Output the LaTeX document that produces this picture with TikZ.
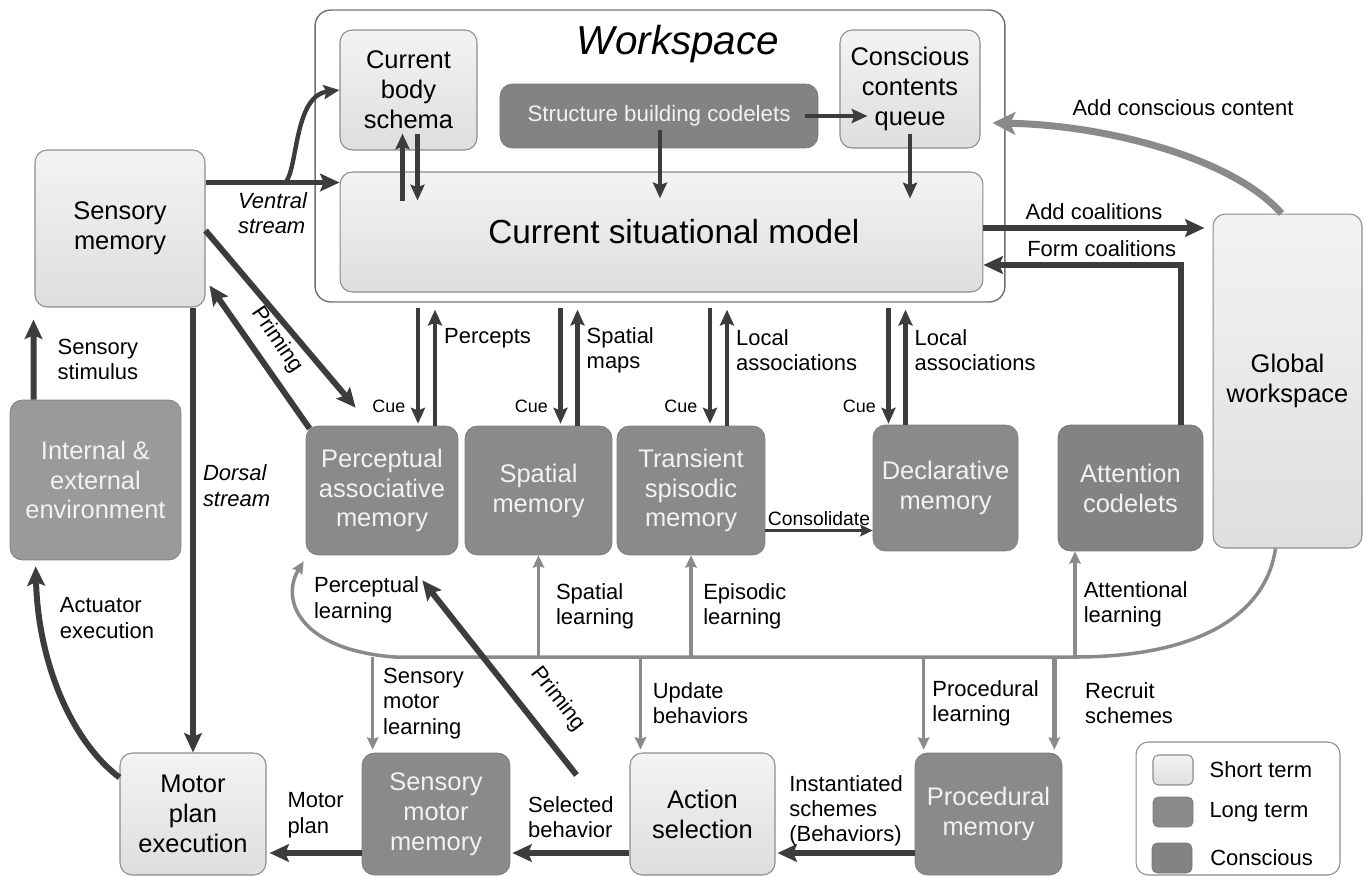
\documentclass[tikz,border=0pt]{standalone}
\usepackage{fontspec}
\setmainfont{Liberation Sans}
\usepackage{tikz}
\usetikzlibrary{positioning}
\usetikzlibrary{calc,arrows.meta}
\definecolor{shortterm}{HTML}{DEDEDE}
\definecolor{shorttop}{HTML}{F3F3F3}
\definecolor{longterm}{HTML}{8A8A8A}
\definecolor{conscious}{HTML}{838383}
\definecolor{envgray}{HTML}{9A9A9A}
\definecolor{darkarrow}{HTML}{3C3C3C}
\definecolor{lightarrow}{HTML}{8A8A8A}
\definecolor{rimgray}{HTML}{8C8C8C}

\tikzset{
  shortbox/.style={draw=rimgray, line width=0.6pt, rounded corners=7pt,
    top color=shorttop, bottom color=shortterm, align=center,
    font=\fontsize{14.5}{17}\selectfont, inner sep=2pt},
  longbox/.style={draw=longterm!90!black, line width=0.4pt, rounded corners=7pt,
    fill=longterm, align=center, text=white!95!black,
    font=\fontsize{14.5}{17}\selectfont, inner sep=2pt},
  consbox/.style={longbox, fill=conscious, draw=conscious!90!black},
  lbl/.style={font=\fontsize{12.5}{14.5}\selectfont, align=left, inner sep=1pt},
  cuelbl/.style={font=\fontsize{10.2}{12}\selectfont, inner sep=1pt},
  bigflow/.style={draw=darkarrow, line width=3.4pt, -{Stealth[length=11pt,width=10pt,inset=2pt]}},
  flow/.style={draw=darkarrow, line width=2.5pt, -{Stealth[length=9pt,width=8pt,inset=1.5pt]}},
  thinflow/.style={draw=darkarrow, line width=1.6pt, -{Stealth[length=7pt,width=6.5pt,inset=1pt]}},
  learn/.style={draw=lightarrow, line width=2pt, -{Stealth[length=7pt,width=6.5pt,inset=1pt]}},
}

\begin{document}
\begin{tikzpicture}[x=0.02cm, y=-0.02cm]
  \useasboundingbox (0,0) rectangle (1365,876);
  % Workspace
  \node[draw=rimgray!80!black, line width=0.8pt, rounded corners=9pt,
        minimum width=13.8cm, minimum height=5.84cm] (ws) at (660,156) {};
  \node[font=\fontsize{23}{27}\selectfont\itshape] (wstitle) at (678,44) {Workspace};
  \node[shortbox, minimum width=2.74cm, minimum height=2.4cm] (body) at (408.5,90) {Current\\body\\schema};
  \node[consbox, minimum width=6.36cm, minimum height=1.28cm,
        font=\fontsize{12.7}{15}\selectfont] (codelets) at (659,116) {Structure building codelets};
  \node[shortbox, minimum width=2.8cm, minimum height=2.36cm] (queue) at (910,89) {Conscious\\contents\\queue};
  \node[shortbox, minimum width=12.86cm, minimum height=2.4cm,
        font=\fontsize{19}{22}\selectfont] (csm) at (661.5,232) {\hspace*{14pt}Current situational model};
  % memories and modules
  \node[shortbox, minimum width=3.4cm, minimum height=3.14cm] (sensmem) at (120,228.5) {Sensory\\memory};
  \node[shortbox, minimum width=2.98cm, minimum height=6.68cm] (gw) at (1287.5,381) {Global\\workspace};
  \node[longbox, fill=envgray, minimum width=3.42cm, minimum height=3.2cm] (env) at (95.5,480) {Internal \&\\external\\environment};
  \node[longbox, minimum width=3.04cm, minimum height=2.58cm] (pam) at (382,490.5) {Perceptual\\associative\\memory};
  \node[longbox, minimum width=2.94cm, minimum height=2.58cm] (spatial) at (538.5,490.5) {Spatial\\memory};
  \node[longbox, minimum width=2.96cm, minimum height=2.58cm] (transient) at (691,490.5) {Transient\\spisodic\\memory};
  \node[longbox, minimum width=2.9cm, minimum height=2.52cm] (declarative) at (945.5,488) {Declarative\\memory};
  \node[consbox, minimum width=2.9cm, minimum height=2.52cm] (attn) at (1130.5,488) {Attention\\codelets};
  \node[shortbox, minimum width=2.92cm, minimum height=2.44cm] (motor) at (193,814) {Motor\\plan\\execution};
  \node[longbox, minimum width=2.96cm, minimum height=2.44cm] (smm) at (436,814) {Sensory\\motor\\memory};
  \node[shortbox, minimum width=2.9cm, minimum height=2.44cm] (action) at (702.5,814) {Action\\selection};
  \node[longbox, minimum width=2.94cm, minimum height=2.44cm] (procedural) at (988.5,814) {Procedural\\memory};
  % legend
  \node[draw=rimgray, line width=0.6pt, rounded corners=7pt,
        minimum width=4.08cm, minimum height=2.66cm] (legend) at (1238,808.5) {};
  \node[shortbox, rounded corners=3pt, minimum width=0.8cm, minimum height=0.6cm] (keyshort) at (1173,770) {};
  \node[longbox, rounded corners=3pt, minimum width=0.8cm, minimum height=0.6cm] (keylong) at (1173,812) {};
  \node[consbox, rounded corners=3pt, minimum width=0.8cm, minimum height=0.6cm] (keycons) at (1172,858) {};
  \node[lbl, right=8pt of keyshort] (shortlbl) {Short term};
  \node[lbl, right=8pt of keylong] (longlbl) {Long term};
  \node[lbl, right=9pt of keycons] (conslbl) {Conscious};

  % ventral stream
  \coordinate (ventral) at ($(sensmem.east)+(0,-46)$);
  \draw[bigflow] (ventral) -- (ventral -| csm.west)
    node[midway, below=3pt, lbl, font=\fontsize{12.5}{14.5}\selectfont\itshape] {Ventral\\stream};
  \draw[flow] ($(ventral)+(80,0)$) .. controls (298,168) and (294,96) .. (body.west);
  \draw[flow] ($(body.south)+(-6,50)$) -- ($(body.south)+(-6,-17)$);
  \draw[flow] ($(body.south)+(9,-17)$) -- ($(body.south)+(9,50)$);
  % codelets and queue
  \draw[flow] ($(codelets.south)+(1,-18)$) -- ($(codelets.south)+(1,50)$);
  \draw[flow] ($(codelets.east)+(-13,0)$) -- ($(queue.west)+(28,27)$);
  \draw[flow] ($(queue.south)+(0,-15)$) -- ($(queue.south)+(0,50)$);
  % coalitions
  \draw[bigflow] ($(csm.east)+(0,-4)$) -- ($(csm.east -| gw.west)+(-8,-4)$)
    node[midway, above=2pt, lbl] {Add coalitions};
  \draw[bigflow] ($(attn.north)+(50,0)$) |- ($(csm.east)+(0,33)$)
    node[pos=0.7, above=2pt, lbl] {Form coalitions};
  \draw[draw=lightarrow, line width=4pt, -{Stealth[length=13pt,width=13pt,inset=3pt]}]
    ($(gw.north)+(-6,0)$) .. controls (1235,160) and (1110,125) .. ($(queue.east)+(12,34)$);
  \node[lbl] (acclbl) at (1183,108) {Add conscious content};
  % sensory memory and perceptual associative memory
  \draw[bigflow] ($(sensmem.east)+(0,2)$) -- ($(pam.north west)+(50,-18)$);
  \draw[bigflow] ($(pam.north west)+(4,3)$) -- ($(sensmem.south east)+(4,-22)$);
  \node[lbl, rotate=-56] (primlbl) at (277,340) {Priming};
  % dorsal stream, stimulus, actuator
  \draw[bigflow] (motor.north |- sensmem.south) -- (motor.north)
    node[pos=0.4, right=3pt, lbl, font=\fontsize{12.5}{14.5}\selectfont\itshape] {Dorsal\\stream};
  \draw[bigflow] ($(env.north west)+(24,0)$) -- ($(sensmem.south west)+(-1,12)$)
    node[midway, right=11pt, lbl] {Sensory\\stimulus};
  \draw[bigflow] ($(motor.north west)+(0,25)$) .. controls (70,740) and (38,660) .. ($(env.south west)+(26,6)$);
  \node[lbl] (actlbl) at (107,618) {Actuator\\execution};
  % cues and associations
  \draw[flow] ($(pam.north)+(36,-118)$) -- ($(pam.north)+(36,-2)$) node[pos=0.85, left=5pt, cuelbl] {Cue};
  \draw[flow] ($(pam.north)+(53,0)$) -- ($(pam.north)+(53,-116)$) node[pos=0.75, right=3pt, lbl] {Percepts};
  \draw[flow] ($(spatial.north)+(22,-118)$) -- ($(spatial.north)+(22,-2)$) node[pos=0.85, left=5pt, cuelbl] {Cue};
  \draw[flow] ($(spatial.north)+(39,0)$) -- ($(spatial.north)+(39,-116)$) node[pos=0.65, right=3pt, lbl] {Spatial\\maps};
  \draw[flow] ($(transient.north)+(19,-118)$) -- ($(transient.north)+(19,-2)$) node[pos=0.85, left=5pt, cuelbl] {Cue};
  \draw[flow] ($(transient.north)+(36,0)$) -- ($(transient.north)+(36,-116)$) node[pos=0.65, right=3pt, lbl] {Local\\associations};
  \draw[flow] ($(declarative.north)+(-57,-117)$) -- ($(declarative.north)+(-57,-1)$) node[pos=0.85, left=5pt, cuelbl] {Cue};
  \draw[flow] ($(declarative.north)+(-40,0)$) -- ($(declarative.north)+(-40,-115)$) node[pos=0.65, right=3pt, lbl] {Local\\associations};
  \coordinate (consol) at ($(transient.east)+(0,40)$);
  \draw[thinflow] (consol) -- (consol -| declarative.west)
    node[midway, above=1pt, lbl, font=\fontsize{11}{13}\selectfont] {Consolidate};
  % learning
  \coordinate (busL) at (395,657);
  \coordinate (busR) at (1075,657);
  \draw[learn] ($(gw.south)+(-12,0)$) .. controls (1265,620) and (1190,657) .. (busR) -- (busL)
    .. controls (300,650) and (280,600) .. ($(pam.south west)+(-2,6)$);
  \node[lbl, anchor=west] (perclbl) at (312,600) {Perceptual\\learning};
  \draw[learn] (busL -| spatial.south) -- (spatial.south) node[midway, right=8pt, lbl] {Spatial\\learning};
  \draw[learn] (busL -| transient.south) -- (transient.south) node[midway, right=5pt, lbl] {Episodic\\learning};
  \draw[learn] (busR) -- (busR |- attn.south) node[midway, right=3pt, lbl] {Attentional\\learning};
  \coordinate (smlearn) at ($(smm.north west)+(11,-3)$);
  \draw[learn] (busL -| smlearn) -- (smlearn) node[midway, right=4pt, lbl] {Sensory\\motor\\learning};
  \coordinate (updb) at ($(action.north west)+(11,-3)$);
  \draw[learn] (busL -| updb) -- (updb) node[midway, right=5pt, lbl] {Update\\behaviors};
  \coordinate (proclearn) at ($(procedural.north west)+(9,-3)$);
  \draw[learn] (busL -| proclearn) -- (proclearn) node[midway, right=3pt, lbl] {Procedural\\learning};
  \coordinate (recruit) at ($(procedural.north east)+(-8,-3)$);
  \draw[learn, line width=3pt] (busL -| recruit) -- (recruit) node[midway, right=15pt, lbl] {Recruit\\schemes};
  % behaviors
  \coordinate (procout) at ($(procedural.west)+(0,39)$);
  \draw[bigflow] (procout) -- ($(procout -| action.east)+(2,0)$)
    node[midway, above=1pt, lbl] {Instantiated\\schemes\\(Behaviors)};
  \coordinate (actout) at ($(action.west)+(0,39)$);
  \draw[bigflow] (actout) -- ($(actout -| smm.east)+(2,0)$)
    node[midway, above=6pt, lbl] {Selected\\behavior};
  \coordinate (smmout) at ($(smm.west)+(0,39)$);
  \draw[bigflow] (smmout) -- ($(smmout -| motor.east)+(3,0)$)
    node[midway, above=6pt, lbl] {Motor\\plan};
  \coordinate (primstart) at ($(action.west)+(-53,-39)$);
  \draw[bigflow] (primstart) -- ($(pam.south east)+(-36,25)$);
  \node[lbl, rotate=-52] (primlbl2) at (558,699) {Priming};
\end{tikzpicture}
\end{document}
